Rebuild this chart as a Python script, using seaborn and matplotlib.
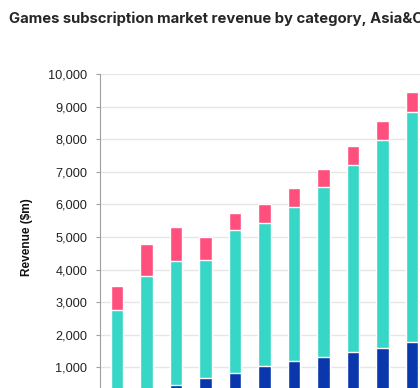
import pandas as pd
import matplotlib.pyplot as plt
import seaborn as sns

# values ($m), one bar per year
years = ["2018", "2019", "2020", "2021", "2022", "2023", "2024", "2025", "2026", "2027", "2028"]
blue_seg = [150, 300, 470, 665, 830, 1050, 1200, 1330, 1460, 1590, 1780]
teal_seg = [2610, 3500, 3800, 3635, 4400, 4370, 4730, 5200, 5760, 6380, 7050]
pink_seg = [740, 1000, 1030, 700, 520, 580, 570, 570, 580, 580, 620]

df = pd.DataFrame({"year": years, "blue": blue_seg, "teal": teal_seg, "pink": pink_seg})
df["teal_top"] = df["blue"] + df["teal"]
df["total"] = df["teal_top"] + df["pink"]

sns.set_style("white")
plt.rcParams["font.family"] = ["Liberation Sans", "DejaVu Sans"]

fig = plt.figure(figsize=(4.2, 3.88), dpi=100)
ax = fig.add_axes([100 / 420, -12 / 388, 320 / 420, 326 / 388])

# stacked bars drawn back to front
sns.barplot(data=df, x="year", y="total", color="#FF4F7D", width=0.42, saturation=1, ax=ax, zorder=3)
sns.barplot(data=df, x="year", y="teal_top", color="#36D7C6", width=0.42, saturation=1, ax=ax, zorder=3)
sns.barplot(data=df, x="year", y="blue", color="#0B37AC", width=0.42, saturation=1, ax=ax, zorder=3)

ax.set_xlim(-0.58, 10.27)
ax.set_ylim(0, 10000)
ticks = list(range(1000, 10001, 1000))
ax.set_yticks(ticks)
ax.set_yticklabels([f"{v:,}" for v in ticks])
ax.yaxis.grid(True, color="#E6E6E6", linewidth=1, zorder=0)
ax.set_axisbelow(True)

for s in ["top", "right", "bottom"]:
    ax.spines[s].set_visible(False)
ax.spines["left"].set_color("#A0A0A0")
ax.spines["left"].set_linewidth(0.8)
ax.tick_params(axis="y", left=True, length=3, width=0.8, color="#A0A0A0",
               labelsize=9.2, labelcolor="#222222", pad=6)
ax.tick_params(axis="x", bottom=False, labelbottom=False)
ax.set_xlabel("")
ax.set_ylabel("Revenue ($m)", fontsize=8.6, fontweight="bold", color="#111111", labelpad=11)

fig.text(9 / 420, 1 - 19 / 388, "Games subscription market revenue by category, Asia&Oceania",
         fontsize=10.7, fontweight="bold", va="center", ha="left", family=["Inter", "DejaVu Sans"])

fig.savefig("out.png", dpi=100)
